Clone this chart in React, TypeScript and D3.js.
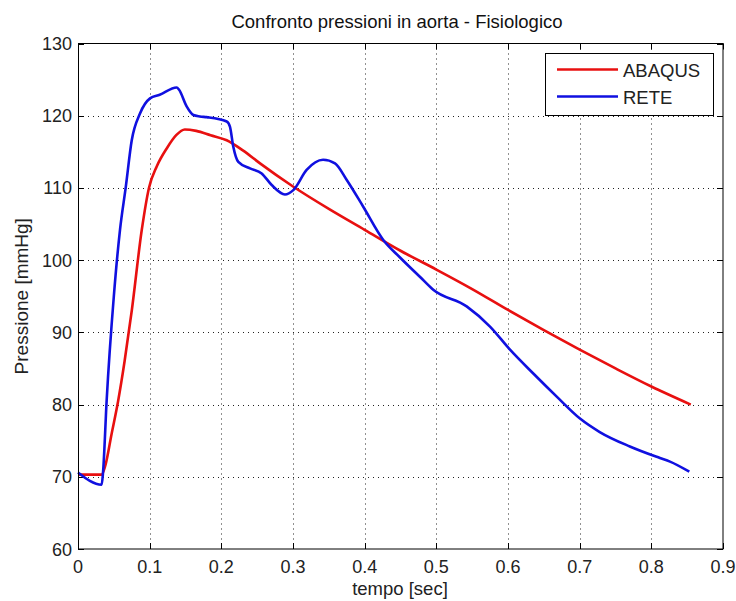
import React from "react";
import * as d3 from "d3";

// Aortic pressure: FE model (ABAQUS) vs lumped network (RETE)
const abaqusTime = [0, 0.033, 0.038, 0.047, 0.056, 0.065, 0.075, 0.089, 0.099, 0.11, 0.124, 0.137, 0.149, 0.165, 0.185, 0.2075, 0.23, 0.254, 0.3, 0.35, 0.4, 0.45, 0.5, 0.55, 0.6, 0.65, 0.7, 0.75, 0.8, 0.855];
const abaqusPressure = [70.3, 70.3, 71.5, 76, 80.5, 86, 93, 104.2, 110, 113, 115.5, 117.3, 118.1, 117.9, 117.3, 116.6, 115.2, 113.4, 110.2, 107.1, 104.2, 101.3, 98.7, 96.0, 93.1, 90.3, 87.6, 85.0, 82.5, 80.0];

const reteTime = [0, 0.033, 0.035, 0.04, 0.05, 0.0586, 0.0665, 0.075, 0.0865, 0.1005, 0.114, 0.1377, 0.141, 0.1516, 0.161, 0.17, 0.1796, 0.2075, 0.212, 0.2167, 0.2237, 0.24, 0.2563, 0.2703, 0.2888, 0.3004, 0.319, 0.342, 0.3586, 0.375, 0.398, 0.426, 0.449, 0.477, 0.4957, 0.5423, 0.5749, 0.6028, 0.6353, 0.668, 0.7, 0.728, 0.77, 0.812, 0.826, 0.853];
const retePressure = [70.6, 68.9, 70.7, 80.6, 95, 104.2, 110, 116.6, 120.3, 122.4, 122.9, 123.9, 123.6, 121.3, 120.1, 119.9, 119.8, 119.2, 118.5, 115.7, 113.6, 112.7, 112.0, 110.4, 109.1, 109.7, 112.5, 113.9, 113.4, 111.1, 107.4, 102.8, 100.4, 97.7, 95.9, 93.6, 90.8, 87.6, 84.3, 81.1, 78.1, 76.2, 74.2, 72.6, 72.1, 70.7];

const xTicks = [0, 0.1, 0.2, 0.3, 0.4, 0.5, 0.6, 0.7, 0.8, 0.9];
const yTicks = [60, 70, 80, 90, 100, 110, 120, 130];

const seriesNames = ["ABAQUS", "RETE"];
const seriesColors = ["#e81010", "#1010e0"];

const W = 736;
const H = 601;
const left = 78;
const right = 723;
const top = 43.5;
const bottom = 549;
const font = "'Liberation Sans', Arial, sans-serif";

export default function App() {
  const x = d3.scaleLinear().domain([0, 0.9]).range([left, right]);
  const y = d3.scaleLinear().domain([60, 130]).range([bottom, top]);

  const line = d3
    .line<[number, number]>()
    .x((d) => x(d[0]))
    .y((d) => y(d[1]))
    .curve(d3.curveMonotoneX);

  const abaqus: [number, number][] = abaqusTime.map((t, i) => [t, abaqusPressure[i]]);
  const rete: [number, number][] = reteTime.map((t, i) => [t, retePressure[i]]);

  const tickLen = 6;
  const legend = { x0: 545.5, y0: 53.5, x1: 713.5, y1: 115.5 };

  return (
    <svg
      width={W}
      height={H}
      style={{ position: "absolute", left: 0, top: 0, background: "#fff" }}
      fontFamily={font}
    >
      <rect x={0} y={0} width={W} height={H} fill="#fff" />
      <text x={397} y={28} textAnchor="middle" fontSize={18.5} fill="#111">
        Confronto pressioni in aorta - Fisiologico
      </text>

      {/* grid */}
      <g stroke="#222" strokeWidth={1} strokeDasharray="1,4">
        {xTicks.slice(1, -1).map((t) => (
          <line key={"gx" + t} x1={Math.round(x(t)) + 0.5} x2={Math.round(x(t)) + 0.5} y1={top} y2={bottom} />
        ))}
        {yTicks.slice(1, -1).map((v) => (
          <line key={"gy" + v} x1={left} x2={right} y1={Math.round(y(v)) + 0.5} y2={Math.round(y(v)) + 0.5} />
        ))}
      </g>

      {/* ticks on all four sides */}
      <g stroke="#000" strokeWidth={1}>
        {xTicks.map((t) => {
          const px = Math.round(x(t)) + 0.5;
          return (
            <g key={"tx" + t}>
              <line x1={px} x2={px} y1={bottom} y2={bottom - tickLen} />
              <line x1={px} x2={px} y1={top} y2={top + tickLen} />
            </g>
          );
        })}
        {yTicks.map((v) => {
          const py = Math.round(y(v)) + 0.5;
          return (
            <g key={"ty" + v}>
              <line x1={left} x2={left + tickLen} y1={py} y2={py} />
              <line x1={right} x2={right - tickLen} y1={py} y2={py} />
            </g>
          );
        })}
      </g>

      {/* data */}
      <path d={line(abaqus) || ""} fill="none" stroke={seriesColors[0]} strokeWidth={2.6} strokeLinejoin="round" />
      <path d={line(rete) || ""} fill="none" stroke={seriesColors[1]} strokeWidth={2.6} strokeLinejoin="round" />

      {/* axes box */}
      <rect x={left + 0.5} y={top} width={right - left - 0.5} height={bottom - top} fill="none" stroke="#000" strokeWidth={1} />

      {/* tick labels */}
      <g fontSize={18} fill="#222">
        {xTicks.map((t) => (
          <text key={"lx" + t} x={x(t)} y={573} textAnchor="middle">
            {d3.format("")(t)}
          </text>
        ))}
        {yTicks.map((v) => (
          <text key={"ly" + v} x={72} y={y(v) + 6.5} textAnchor="end">
            {v}
          </text>
        ))}
      </g>

      <text x={400} y={595} textAnchor="middle" fontSize={18.5} fill="#222">
        tempo [sec]
      </text>
      <text
        transform={`translate(28, ${(top + bottom) / 2}) rotate(-90)`}
        textAnchor="middle"
        fontSize={19}
        fill="#222"
      >
        Pressione [mmHg]
      </text>

      {/* legend */}
      <rect
        x={legend.x0}
        y={legend.y0}
        width={legend.x1 - legend.x0}
        height={legend.y1 - legend.y0}
        fill="#fff"
        stroke="#000"
        strokeWidth={1}
      />
      {seriesNames.map((name, i) => {
        const ly = 69.5 + i * 27;
        return (
          <g key={name}>
            <line x1={557} x2={618} y1={ly} y2={ly} stroke={seriesColors[i]} strokeWidth={2.6} />
            <text x={623} y={ly + 7} fontSize={18.5} fill="#222">
              {name}
            </text>
          </g>
        );
      })}
    </svg>
  );
}
